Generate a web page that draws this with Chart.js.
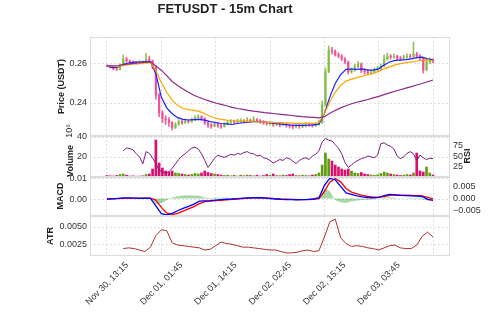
<!DOCTYPE html>
<html>
<head>
<meta charset="utf-8">
<script src="https://cdn.jsdelivr.net/npm/chart.js@4"></script>
<style>
  html, body { margin: 0; padding: 0; background: #fff; }
  #wrap { position: relative; width: 500px; height: 312px; }
  #wrap canvas { position: absolute; left: 0; top: 0; }
</style>
</head>
<body>
<div id="wrap">
  <canvas id="atr" width="500" height="312"></canvas>
  <canvas id="macd" width="500" height="312"></canvas>
  <canvas id="vol" width="500" height="312"></canvas>
  <canvas id="price" width="500" height="312"></canvas>
</div>
<script>
// x axis: bar index (15m bars), labelled every 50 bars
const xTickBars = [0, 50, 100, 150, 200, 250, 300];
const xTickLabels = ['Nov 30, 13:15', 'Dec 01, 01:45', 'Dec 01, 14:15', 'Dec 02, 02:45', 'Dec 02, 15:15', 'Dec 03, 03:45', ''];

// candles, sampled every 3 bars
const opens = [0.2592,0.2590,0.2583,0.2576,0.2572,0.2592,0.2625,0.2615,0.2610,0.2608,
  0.2605,0.2610,0.2607,0.2625,0.2615,0.2585,0.2440,0.2350,0.2320,0.2315,
  0.2300,0.2275,0.2290,0.2305,0.2300,0.2308,0.2305,0.2315,0.2325,0.2330,
  0.2320,0.2300,0.2288,0.2282,0.2295,0.2285,0.2280,0.2292,0.2300,0.2305,
  0.2302,0.2308,0.2310,0.2305,0.2312,0.2308,0.2315,0.2310,0.2305,0.2300,
  0.2295,0.2298,0.2290,0.2293,0.2288,0.2292,0.2285,0.2282,0.2278,0.2285,
  0.2280,0.2283,0.2290,0.2288,0.2285,0.2290,0.2300,0.2390,0.2560,0.2670,
  0.2665,0.2648,0.2640,0.2625,0.2610,0.2560,0.2568,0.2585,0.2600,0.2565,
  0.2560,0.2555,0.2560,0.2570,0.2575,0.2590,0.2625,0.2640,0.2635,0.2640,
  0.2630,0.2628,0.2635,0.2640,0.2638,0.2650,0.2640,0.2630,0.2570,0.2610,
  0.2620];
const closes = [0.2590,0.2583,0.2576,0.2572,0.2592,0.2625,0.2615,0.2610,0.2608,0.2605,
  0.2610,0.2607,0.2625,0.2615,0.2585,0.2440,0.2350,0.2320,0.2315,0.2300,
  0.2275,0.2290,0.2305,0.2300,0.2308,0.2305,0.2315,0.2325,0.2330,0.2320,
  0.2300,0.2288,0.2282,0.2295,0.2285,0.2280,0.2292,0.2300,0.2305,0.2302,
  0.2308,0.2310,0.2305,0.2312,0.2308,0.2315,0.2310,0.2305,0.2300,0.2295,
  0.2298,0.2290,0.2293,0.2288,0.2292,0.2285,0.2282,0.2278,0.2285,0.2280,
  0.2283,0.2290,0.2288,0.2285,0.2290,0.2300,0.2390,0.2560,0.2670,0.2665,
  0.2648,0.2640,0.2625,0.2610,0.2560,0.2568,0.2585,0.2600,0.2565,0.2560,
  0.2555,0.2560,0.2570,0.2575,0.2590,0.2625,0.2640,0.2635,0.2640,0.2630,
  0.2628,0.2635,0.2640,0.2638,0.2650,0.2640,0.2630,0.2570,0.2610,0.2620,
  0.2612];
const highs = [0.2595,0.2592,0.2586,0.2580,0.2600,0.2646,0.2635,0.2620,0.2616,0.2614,
  0.2618,0.2615,0.2655,0.2640,0.2620,0.2590,0.2450,0.2360,0.2335,0.2325,
  0.2305,0.2300,0.2315,0.2312,0.2318,0.2315,0.2322,0.2335,0.2340,0.2335,
  0.2325,0.2305,0.2295,0.2302,0.2300,0.2292,0.2300,0.2310,0.2315,0.2312,
  0.2318,0.2320,0.2315,0.2325,0.2318,0.2330,0.2320,0.2315,0.2310,0.2305,
  0.2308,0.2302,0.2300,0.2298,0.2300,0.2296,0.2292,0.2290,0.2292,0.2290,
  0.2292,0.2298,0.2297,0.2294,0.2298,0.2312,0.2410,0.2580,0.2692,0.2685,
  0.2672,0.2658,0.2648,0.2632,0.2615,0.2580,0.2598,0.2612,0.2605,0.2575,
  0.2570,0.2570,0.2580,0.2588,0.2600,0.2645,0.2655,0.2648,0.2652,0.2645,
  0.2640,0.2645,0.2650,0.2650,0.2712,0.2660,0.2648,0.2635,0.2625,0.2630,
  0.2625];
const lows = [0.2585,0.2578,0.2570,0.2566,0.2570,0.2590,0.2608,0.2603,0.2601,0.2598,
  0.2600,0.2600,0.2603,0.2608,0.2575,0.2420,0.2330,0.2300,0.2290,0.2280,
  0.2262,0.2268,0.2285,0.2290,0.2295,0.2296,0.2300,0.2310,0.2318,0.2312,
  0.2290,0.2275,0.2270,0.2278,0.2275,0.2270,0.2276,0.2288,0.2295,0.2294,
  0.2298,0.2300,0.2298,0.2302,0.2300,0.2305,0.2302,0.2296,0.2290,0.2286,
  0.2288,0.2280,0.2284,0.2278,0.2282,0.2276,0.2272,0.2268,0.2272,0.2270,
  0.2274,0.2278,0.2280,0.2276,0.2280,0.2286,0.2295,0.2385,0.2555,0.2650,
  0.2640,0.2632,0.2618,0.2600,0.2548,0.2552,0.2562,0.2580,0.2556,0.2548,
  0.2545,0.2548,0.2555,0.2562,0.2570,0.2585,0.2620,0.2625,0.2628,0.2622,
  0.2618,0.2624,0.2630,0.2628,0.2634,0.2630,0.2620,0.2553,0.2565,0.2600,
  0.2605];
// volume in millions, same sampling as candles
const volumes = [1.5,1.2,1.0,1.5,2.5,3.0,1.8,1.0,1.2,0.8,
  1.0,1.2,2.5,3.0,8.0,37.0,14.0,9.0,6.0,5.0,
  6.0,4.0,3.5,3.0,2.5,2.0,2.5,3.5,3.0,4.0,
  6.0,4.5,3.5,3.0,2.5,2.0,1.5,1.8,1.2,1.5,
  1.0,1.8,1.2,2.0,1.5,1.2,1.8,1.0,1.5,2.5,
  1.8,3.0,1.5,1.2,2.0,1.5,2.5,3.0,1.5,1.2,
  1.8,1.5,1.2,2.0,2.5,4.0,12.0,24.0,18.0,16.0,
  12.0,10.0,8.0,7.0,8.0,6.0,4.0,3.5,4.5,3.0,
  2.5,2.0,1.8,2.2,3.5,5.0,4.0,3.0,2.5,2.0,
  1.5,1.8,2.5,2.0,4.0,24.0,6.0,5.0,10.0,4.0,
  2.0];
const rsi = [null,null,null,null,null,62,68,67,64,55,
  48,32,60,56,45,33,18,14,12,14,
  22,32,42,50,55,62,68,70,66,55,
  40,24,34,45,52,49,47,50,54,52,
  56,54,58,60,56,55,50,52,46,44,
  40,34,38,42,40,46,44,38,33,40,
  44,46,42,50,54,62,82,90,86,84,
  76,68,55,35,24,30,36,40,44,46,
  50,48,46,52,78,80,75,72,66,50,
  44,48,56,60,55,40,52,46,42,45,
  44];

// smooth indicators, sampled every 5 bars
const emaFast = [0.2590,0.2581,0.2584,0.2598,0.2605,0.2609,0.2610,0.2612,0.2612,0.2550,
  0.2430,0.2375,0.2345,0.2325,0.2316,0.2313,0.2315,0.2316,0.2312,0.2305,
  0.2300,0.2295,0.2293,0.2290,0.2295,0.2299,0.2302,0.2305,0.2304,0.2302,
  0.2298,0.2295,0.2292,0.2289,0.2286,0.2285,0.2285,0.2286,0.2288,0.2292,
  0.2345,0.2430,0.2500,0.2545,0.2572,0.2574,0.2572,0.2575,0.2568,0.2568,
  0.2575,0.2595,0.2610,0.2618,0.2620,0.2622,0.2626,0.2632,0.2635,0.2626,
  0.2621];
const emaMid = [0.2590,0.2587,0.2588,0.2593,0.2597,0.2600,0.2602,0.2605,0.2607,0.2565,
  0.2505,0.2455,0.2415,0.2388,0.2372,0.2366,0.2362,0.2357,0.2345,0.2332,
  0.2322,0.2316,0.2312,0.2309,0.2307,0.2306,0.2305,0.2304,0.2303,0.2302,
  0.2301,0.2300,0.2299,0.2298,0.2297,0.2296,0.2296,0.2296,0.2296,0.2300,
  0.2345,0.2405,0.2455,0.2490,0.2512,0.2522,0.2530,0.2537,0.2545,0.2552,
  0.2562,0.2575,0.2585,0.2595,0.2602,0.2607,0.2611,0.2615,0.2620,0.2621,
  0.2616];
const emaSlow = [0.2590,0.2590,0.2592,0.2596,0.2600,0.2603,0.2606,0.2609,0.2611,0.2590,
  0.2568,0.2540,0.2510,0.2490,0.2472,0.2455,0.2440,0.2428,0.2418,0.2408,
  0.2400,0.2393,0.2386,0.2378,0.2372,0.2367,0.2362,0.2358,0.2355,0.2351,
  0.2348,0.2345,0.2342,0.2339,0.2336,0.2333,0.2330,0.2328,0.2326,0.2324,
  0.2330,0.2348,0.2362,0.2375,0.2386,0.2396,0.2404,0.2411,0.2418,0.2426,
  0.2434,0.2443,0.2452,0.2460,0.2468,0.2476,0.2484,0.2492,0.2500,0.2509,
  0.2518];
const macd = [0.0000,0.0001,0.0003,0.0005,0.0005,0.0004,0.0003,0.0004,0.0003,-0.0033,
  -0.0070,-0.0076,-0.0068,-0.0056,-0.0045,-0.0035,-0.0024,-0.0010,-0.0009,-0.0008,
  -0.0005,-0.0003,-0.0001,0.0000,0.0002,0.0004,0.0005,0.0006,0.0006,0.0004,
  0.0002,0.0000,-0.0002,-0.0003,-0.0003,-0.0004,-0.0003,-0.0002,0.0000,0.0005,
  0.0065,0.0098,0.0092,0.0060,0.0029,0.0022,0.0015,0.0010,0.0007,0.0006,
  0.0008,0.0016,0.0022,0.0020,0.0017,0.0016,0.0015,0.0014,0.0012,-0.0002,
  -0.0006];
const signal = [0.0000,0.0001,0.0002,0.0003,0.0004,0.0004,0.0004,0.0004,0.0004,-0.0005,
  -0.0040,-0.0066,-0.0074,-0.0068,-0.0058,-0.0047,-0.0036,-0.0022,-0.0012,-0.0010,
  -0.0008,-0.0006,-0.0004,-0.0002,0.0000,0.0002,0.0004,0.0005,0.0006,0.0005,
  0.0004,0.0002,0.0000,-0.0001,-0.0002,-0.0003,-0.0003,-0.0003,-0.0002,0.0002,
  0.0035,0.0080,0.0098,0.0082,0.0050,0.0033,0.0024,0.0017,0.0012,0.0009,
  0.0009,0.0012,0.0018,0.0020,0.0019,0.0018,0.0017,0.0016,0.0015,0.0008,
  0.0001];
const histogram = [0.0001,0.0001,0.0002,0.0002,0.0002,0.0001,0.0001,0.0001,0.0000,-0.0025,
  -0.0020,-0.0008,0.0004,0.0010,0.0013,0.0014,0.0013,0.0012,0.0004,0.0002,
  0.0003,0.0003,0.0003,0.0002,0.0002,0.0002,0.0001,0.0001,0.0000,-0.0001,
  -0.0002,-0.0002,-0.0002,-0.0002,-0.0001,-0.0001,0.0000,0.0001,0.0002,0.0010,
  0.0045,0.0032,-0.0008,-0.0016,-0.0019,-0.0012,-0.0009,-0.0007,-0.0005,-0.0003,
  0.0000,0.0004,0.0005,0.0002,0.0000,-0.0001,-0.0002,-0.0002,-0.0003,-0.0009,
  -0.0007];
const atr = [null,null,null,0.0020,0.0021,0.0020,0.0018,0.0016,0.0022,0.0038,
  0.0046,0.0045,0.0028,0.0025,0.0024,0.0023,0.0022,0.0021,0.0018,0.0019,
  0.0024,0.0029,0.0027,0.0026,0.0024,0.0022,0.0022,0.0021,0.0020,0.0019,
  0.0018,0.0018,0.0016,0.0014,0.0014,0.0015,0.0017,0.0018,0.0016,0.0017,
  0.0036,0.0057,0.0061,0.0035,0.0027,0.0023,0.0024,0.0023,0.0021,0.0020,
  0.0018,0.0021,0.0024,0.0025,0.0021,0.0020,0.0020,0.0025,0.0037,0.0043,
  0.0036];

const priceTicks = [0.24, 0.26];
const volumeTicks = [20, 40];
const rsiTicks = [25, 50, 75];
const macdTicks = [0, 0.01];
const histTicks = [-0.005, 0, 0.005];
const atrTicks = [0.0025, 0.005];

const candleBars = closes.map((c, i) => i * 3);
const smoothBars = emaFast.map((v, i) => i * 5);

Chart.defaults.font.family = "'Liberation Sans', Arial, sans-serif";
Chart.defaults.font.size = 9;
Chart.defaults.color = '#333';
Chart.defaults.animation = false;
Chart.defaults.responsive = false;
Chart.defaults.plugins.legend.display = false;
Chart.defaults.plugins.tooltip.enabled = false;
Chart.defaults.elements.point.radius = 0;

const gridColor = '#d6d6d6';
const upColor = 'rgba(130,190,70,0.9)';
const downColor = 'rgba(240,80,150,0.9)';
const candleColors = closes.map((c, i) => c >= opens[i] ? upColor : downColor);
const volColors = closes.map((c, i) => c >= opens[i] ? '#5f9c10' : '#dc0f6e');

function pts(xs, ys) {
    return xs.map((x, i) => ({x: x, y: ys[i]}));
}

function xAxis(labels) {
    return {
        type: 'linear', min: -15.6, max: 315.6, offset: false,
        afterBuildTicks: a => { a.ticks = xTickBars.map(v => ({value: v})); },
        afterFit: a => { a.height = labels ? 56 : 0; },
        grid: {color: gridColor, lineWidth: 0.8, drawTicks: false, offset: false},
        border: {display: false, dash: [2, 2]},
        ticks: labels ? {
            autoSkip: false, maxRotation: 45, minRotation: 45, padding: 4, labelOffset: 20,
            callback: v => xTickLabels[xTickBars.indexOf(v)] || ''
        } : {display: false}
    };
}

function yAxis(pos, min, max, vals, fmt, grid) {
    return {
        position: pos, min: min, max: max,
        afterBuildTicks: a => { a.ticks = vals.map(v => ({value: v})); },
        afterFit: a => { a.width = pos === 'left' ? 90 : 50; },
        grid: {display: grid, color: gridColor, lineWidth: 0.8, drawTicks: false},
        border: {display: false, dash: [2, 2]},
        ticks: {padding: 3, callback: fmt}
    };
}

// light frame round each panel
const frame = {
    id: 'frame',
    afterDraw(chart) {
        const a = chart.chartArea, ctx = chart.ctx;
        ctx.save();
        ctx.strokeStyle = '#dcdcdc';
        ctx.lineWidth = 1;
        ctx.strokeRect(a.left + 0.5, a.top + 0.5, a.width - 1, a.height - 1);
        ctx.restore();
    }
};

// rotated axis titles
const sideText = {
    id: 'sideText',
    afterDraw(chart, args, opts) {
        const ctx = chart.ctx;
        (opts.items || []).forEach(t => {
            ctx.save();
            ctx.translate(t.x, t.y);
            ctx.rotate(-Math.PI / 2);
            ctx.font = (t.bold === false ? '' : 'bold ') + '9px "Liberation Sans", "DejaVu Sans", Arial, sans-serif';
            ctx.fillStyle = '#222';
            ctx.textAlign = 'center';
            ctx.textBaseline = 'middle';
            ctx.fillText(t.text, 0, 0);
            ctx.restore();
        });
    }
};

new Chart(document.getElementById('price'), {
    type: 'bar',
    data: {
        datasets: [
            {type: 'line', data: pts(smoothBars, emaSlow), borderColor: '#8b2b8b', borderWidth: 1.2, order: 1},
            {type: 'line', data: pts(smoothBars, emaMid), borderColor: '#ffa500', borderWidth: 1.2, order: 1},
            {type: 'line', data: pts(smoothBars, emaFast), borderColor: '#1f1fff', borderWidth: 1.2, order: 1},
            {data: candleBars.map((x, i) => ({x: x, y: [lows[i], highs[i]]})),
             backgroundColor: candleColors, barThickness: 1, grouped: false, order: 3},
            {data: candleBars.map((x, i) => ({x: x, y: [Math.min(opens[i], closes[i]), Math.max(opens[i], closes[i])]})),
             backgroundColor: candleColors, barThickness: 1.6, grouped: false, order: 2}
        ]
    },
    options: {
        layout: {padding: {top: 0, bottom: 176, left: 0, right: 50}},
        plugins: {
            title: {display: true, text: 'FETUSDT - 15m Chart', color: '#222',
                    font: {size: 13, weight: 'bold'}, padding: {top: 2, bottom: 19.4}},
            sideText: {items: [{text: 'Price (USDT)', x: 62, y: 86.5}]}
        },
        scales: {
            x: xAxis(false),
            y: yAxis('left', 0.2231, 0.2738, priceTicks, v => v.toFixed(2), true)
        }
    },
    plugins: [frame, sideText]
});

new Chart(document.getElementById('vol'), {
    type: 'bar',
    data: {
        datasets: [
            {type: 'line', data: pts(candleBars, rsi), borderColor: '#7d1d80', borderWidth: 1, yAxisID: 'y2', order: 1},
            {data: pts(candleBars, volumes), backgroundColor: volColors, barThickness: 2, grouped: false, order: 2}
        ]
    },
    options: {
        layout: {padding: {top: 136, bottom: 135, left: 0, right: 0}},
        plugins: {
            sideText: {items: [
                {text: 'Volume', x: 70.5, y: 161},
                {text: '10\u2076', x: 70, y: 131, bold: false},
                {text: 'RSI', x: 468, y: 156}
            ]}
        },
        scales: {
            x: xAxis(false),
            y: yAxis('left', 0, 41, volumeTicks, v => String(v), true),
            y2: yAxis('right', 2.3, 95.5, rsiTicks, v => String(v), false)
        }
    },
    plugins: [frame, sideText]
});

new Chart(document.getElementById('macd'), {
    type: 'line',
    data: {
        datasets: [
            {data: pts(smoothBars, macd), borderColor: '#0000ff', borderWidth: 1.3, order: 1},
            {data: pts(smoothBars, signal), borderColor: '#ff0000', borderWidth: 1.3, order: 1},
            {data: pts(smoothBars, histogram), yAxisID: 'y2', borderWidth: 0, fill: 'origin',
             backgroundColor: 'rgba(0,140,0,0.35)', order: 3}
        ]
    },
    options: {
        layout: {padding: {top: 177, bottom: 96, left: 0, right: 0}},
        plugins: {
            sideText: {items: [{text: 'MACD', x: 61, y: 196}]}
        },
        scales: {
            x: xAxis(false),
            y: yAxis('left', -0.0081, 0.0105, macdTicks, v => v.toFixed(2), true),
            y2: yAxis('right', -0.0076, 0.00935, histTicks, v => v.toFixed(3).replace('-', '\u2212'), false)
        }
    },
    plugins: [frame, sideText]
});

new Chart(document.getElementById('atr'), {
    type: 'line',
    data: {
        datasets: [
            {data: pts(smoothBars, atr), borderColor: '#b03030', borderWidth: 1}
        ]
    },
    options: {
        layout: {padding: {top: 216, bottom: 0, left: 0, right: 50}},
        plugins: {
            sideText: {items: [{text: 'ATR', x: 51, y: 236}]}
        },
        scales: {
            x: xAxis(true),
            y: yAxis('left', 0.00097, 0.00653, atrTicks, v => v.toFixed(4), true)
        }
    },
    plugins: [frame, sideText]
});
</script>
</body>
</html>
